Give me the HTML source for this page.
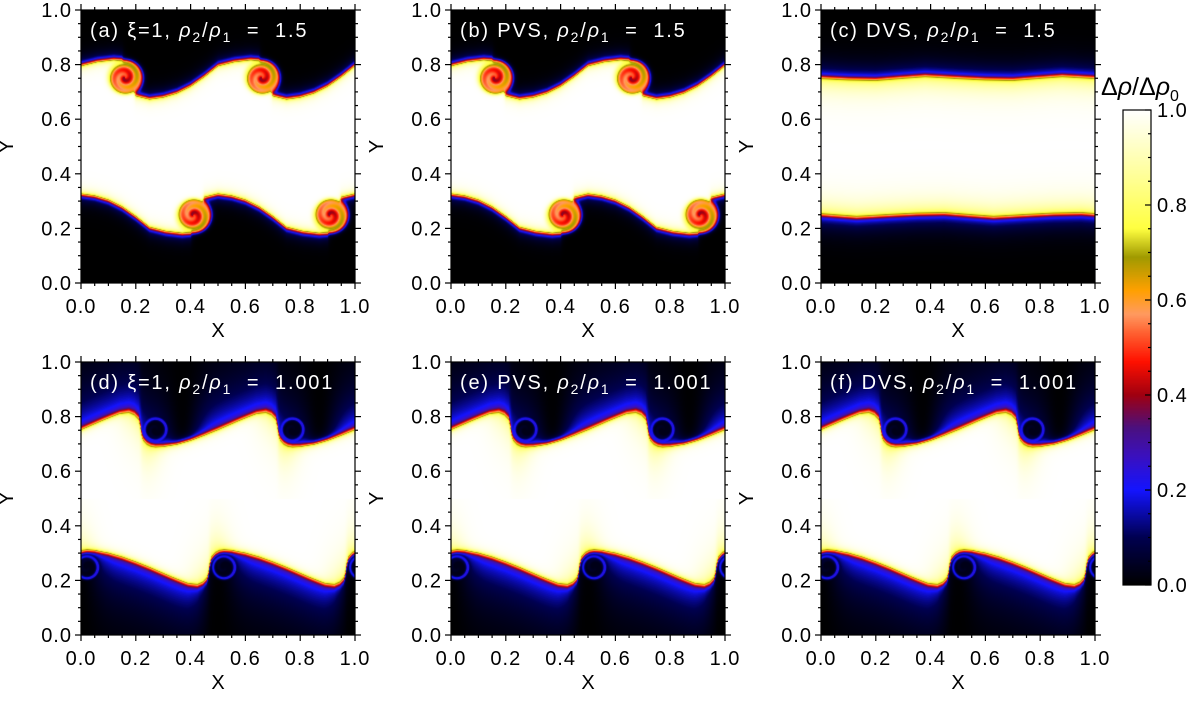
<!DOCTYPE html>
<html><head><meta charset="utf-8">
<style>
html,body{margin:0;padding:0;background:#fff;}
#root{position:relative;width:1200px;height:706px;overflow:hidden;font-family:"Liberation Sans",sans-serif;}
canvas{position:absolute;}
svg{position:absolute;left:0;top:0;}
</style></head>
<body>
<div id="root">
<svg id="ov" width="1200" height="706"></svg>
</div>
<script>
// ---- data ----
const xTickLabels = ["0.0","0.2","0.4","0.6","0.8","1.0"];
const yTickLabels = ["0.0","0.2","0.4","0.6","0.8","1.0"];
const xTickValues = [0,0.2,0.4,0.6,0.8,1.0];
const yTickValues = [0,0.2,0.4,0.6,0.8,1.0];
const cbTickValues = [0,0.2,0.4,0.6,0.8,1.0];
const cbTickLabels = ["0.0","0.2","0.4","0.6","0.8","1.0"];
const cmapPos = [0,0.10,0.20,0.27,0.33,0.40,0.47,0.53,0.57,0.62,0.69,0.75,0.85,1.0];
const cmapCol = ["#000000","#000050","#1414ff","#3a10c0","#4a1080","#a00010","#ff1000","#ff6030","#ff9a60","#ffa000","#a09a00","#ffff40","#ffff90","#ffffff"];
const panelTags = ["(a)","(b)","(c)","(d)","(e)","(f)"];
const panelScheme = ["\u03BE=1,","PVS,","DVS,","\u03BE=1,","PVS,","DVS,"];
const panelRatio = ["1.5","1.5","1.5","1.001","1.001","1.001"];
const panelType = ["a","a","c","d","d","d"];
// interface (upper half, one period of 0.5)
const ifaceA_x = [0,0.06,0.12,0.15,0.175,0.20,0.25,0.30,0.35,0.40,0.45,0.5];
const ifaceA_y = [0.80,0.815,0.822,0.818,0.75,0.69,0.678,0.685,0.70,0.725,0.76,0.80];
const ifaceD_x = [0,0.08,0.14,0.175,0.195,0.21,0.217,0.219,0.226,0.24,0.255,0.272,0.30,0.35,0.40,0.45,0.5];
const ifaceD_y = [0.755,0.79,0.815,0.822,0.815,0.80,0.77,0.752,0.725,0.708,0.699,0.695,0.695,0.703,0.717,0.735,0.755];
const ifaceC_x = [0,0.1,0.2,0.3,0.38,0.45,0.5];
const ifaceC_y = [0.755,0.75,0.748,0.756,0.762,0.758,0.755];
const vortexA = [0.16,0.752,0.065];
const vortexD = [0.272,0.752,0.052];
const darkColD = [0.37,0.25]; // upper, lower (in mapped coordinates)

// ---- layout ----
const PX = [81,451,821], PY = [10,362], PW = 274, PH = 273;
const CB = {x:1123,y:110,w:28,h:475};
const NS = "http://www.w3.org/2000/svg";
const ov = document.getElementById('ov');

function hex(c){return [parseInt(c.substr(1,2),16),parseInt(c.substr(3,2),16),parseInt(c.substr(5,2),16)];}
const cmapRGB = cmapCol.map(hex);
function cmap(v){
  v=Math.max(0,Math.min(1,v));
  for(let i=1;i<cmapPos.length;i++){ if(v<=cmapPos[i]){const t=(v-cmapPos[i-1])/(cmapPos[i]-cmapPos[i-1]);const a=cmapRGB[i-1],b=cmapRGB[i];return [a[0]+(b[0]-a[0])*t,a[1]+(b[1]-a[1])*t,a[2]+(b[2]-a[2])*t];}}
  return cmapRGB[cmapRGB.length-1];
}
function interp(xs,ys,x){for(let i=1;i<xs.length;i++){if(x<=xs[i]){const t=(x-xs[i-1])/(xs[i]-xs[i-1]);return ys[i-1]+(ys[i]-ys[i-1])*t;}}return ys[ys.length-1];}
function sig(z){return 1/(1+Math.exp(-z));}
function gauss(x,c,s){let d=((x-c)%0.5+0.75)%0.5-0.25;return Math.exp(-(d/s)*(d/s));}

function fieldUpper(type,x,y,lower){
  const xm=((x%0.5)+0.5)%0.5;
  let xs,ys; if(type==='a'){xs=ifaceA_x;ys=ifaceA_y;} else if(type==='d'){xs=ifaceD_x;ys=ifaceD_y;} else {xs=ifaceC_x;ys=ifaceC_y;}
  const yi=interp(xs,ys,xm);
  const d=yi-y;
  const e=sig(d/0.0045);
  const dd=Math.max(d,0),dk=Math.min(d,0);
  let vw,vk;
  if(type==='a'){vw=1-0.25*Math.exp(-dd/0.015); vk=0.22*Math.exp(dk/0.02);}
  else if(type==='c'){vw=1-0.25*Math.exp(-dd/0.04); vk=0.25*Math.exp(dk/0.035);}
  else {
    const cc=lower?darkColD[1]:darkColD[0];
    vw=1-0.25*Math.exp(-dd/0.012)-0.2*Math.exp(-dd/0.07)*gauss(xm,0.22,0.07);
    vk=0.16*Math.exp(dk/0.012)+0.25*Math.exp(dk/0.11)*(1-0.95*gauss(xm,cc,0.07));}
  let v=e*vw+(1-e)*vk;
  const vt = type==='a'?vortexA:(type==='d'?vortexD:null);
  if(vt){
    let dx=((xm-vt[0])%0.5+0.75)%0.5-0.25, dy=y-vt[1];
    const r=Math.sqrt(dx*dx+dy*dy), R=vt[2];
    if(r<R*1.5){
      const th=Math.atan2(dy,dx); let vv,m;
      if(type==='a'){ vv=0.44+0.3*Math.pow(r/R,1.5)+0.07*Math.cos(th-10*r/R); m=sig((R-r)/0.004);}
      else { vv=0.03+0.2*Math.exp(-Math.pow(r/R-0.78,2)/0.015)+0.06*Math.max(0,Math.cos(th-9*r/R))*(r/R); m=sig((R-0.006-r)/0.003);}
      v=m*vv+(1-m)*v;
    }
  }
  return v;
}
function field(type,x,y){ return y>=0.5?fieldUpper(type,x,y,false):fieldUpper(type,x-0.25,1-y,true); }

function mk(tag,attrs,parent){const el=document.createElementNS(NS,tag);for(const k in attrs)el.setAttribute(k,attrs[k]);(parent||ov).appendChild(el);return el;}

for(let p=0;p<6;p++){
  const col=p%3,row=Math.floor(p/3);
  const x0=PX[col],y0=PY[row];
  const cv=document.createElement('canvas');
  cv.width=PW;cv.height=PH;cv.style.left=x0+'px';cv.style.top=y0+'px';
  
  
  document.getElementById('root').insertBefore(cv,ov);
  const ctx=cv.getContext('2d');const img=ctx.createImageData(PW,PH);
  for(let j=0;j<PH;j++){const y=1-(j+0.5)/PH;for(let i=0;i<PW;i++){const x=(i+0.5)/PW;const c=cmap(field(panelType[p],x,y));const k=(j*PW+i)*4;img.data[k]=c[0];img.data[k+1]=c[1];img.data[k+2]=c[2];img.data[k+3]=255;}}
  ctx.putImageData(img,0,0);

  const g=mk('g',{});
  
  
  const frame=mk('rect',{x:x0,y:y0,width:PW,height:PH,fill:'none',stroke:'#000','stroke-width':1.2},g);
  
  
  const sx=v=>x0+v*PW, sy=v=>y0+PH-v*PH;
  for(let k=0;k<=20;k++){
    const v=k/20, L=(k%4===0)?6:3;
    mk('line',{x1:sx(v),x2:sx(v),y1:y0+PH,y2:y0+PH+L,stroke:'#000','stroke-width':1.2},g);
    mk('line',{x1:sx(v),x2:sx(v),y1:y0,y2:y0-L,stroke:'#000','stroke-width':1.2},g);
    mk('line',{x1:x0,x2:x0-L,y1:sy(v),y2:sy(v),stroke:'#000','stroke-width':1.2},g);
    mk('line',{x1:x0+PW,x2:x0+PW+L,y1:sy(v),y2:sy(v),stroke:'#000','stroke-width':1.2},g);
  }
  for(let k=0;k<xTickValues.length;k++){
    const t=mk('text',{x:sx(xTickValues[k]),y:y0+PH+30,'text-anchor':'middle','font-size':20,'letter-spacing':1,fill:'#000'},g);
    t.textContent=xTickLabels[k];
    
    
  }
  for(let k=0;k<yTickValues.length;k++){
    const t=mk('text',{x:x0-9,y:sy(yTickValues[k])+7,'text-anchor':'end','font-size':20,'letter-spacing':1,fill:'#000'},g);
    t.textContent=yTickLabels[k];
    
    
  }
  const xt=mk('text',{x:x0+PW/2,y:y0+PH+54,'text-anchor':'middle','font-size':20,fill:'#000'},g);
  xt.textContent='X';
  
  
  const yx=x0-68, yy=y0+PH/2;
  const yt=mk('text',{x:yx,y:yy,'text-anchor':'middle','font-size':20,fill:'#000',transform:'rotate(-90 '+yx+' '+yy+')'},g);
  yt.textContent='Y';
  
  
  const lab=mk('text',{x:x0+9,y:y0+27,'font-size':20,'letter-spacing':1.8,fill:'#fff',style:'white-space:pre'},g);
  
  
  lab.innerHTML=panelTags[p]+' '+panelScheme[p]+' <tspan font-style="italic">\u03C1</tspan><tspan font-size="14" dy="5">2</tspan><tspan dy="-5">/</tspan><tspan font-style="italic">\u03C1</tspan><tspan font-size="14" dy="5">1</tspan><tspan dy="-5">  =  '+panelRatio[p]+'</tspan>';
}

// colorbar
const cbc=document.createElement('canvas');
cbc.width=CB.w;cbc.height=CB.h;cbc.style.left=CB.x+'px';cbc.style.top=CB.y+'px';


document.getElementById('root').insertBefore(cbc,ov);
{const ctx=cbc.getContext('2d');for(let j=0;j<CB.h;j++){const c=cmap(1-(j+0.5)/CB.h);ctx.fillStyle='rgb('+c.map(Math.round).join(',')+')';ctx.fillRect(0,j,CB.w,1);}}
const cbg=mk('g',{});


mk('rect',{x:CB.x,y:CB.y,width:CB.w,height:CB.h,fill:'none',stroke:'#000','stroke-width':1.2},cbg);
const cby=v=>CB.y+CB.h-v*CB.h;
for(let k=0;k<=20;k++){const v=k/20;const L=(k%4===0)?6:3;
  mk('line',{x1:CB.x+CB.w,x2:CB.x+CB.w-L,y1:cby(v),y2:cby(v),stroke:'#000','stroke-width':1.2},cbg);}
for(let k=0;k<cbTickValues.length;k++){
  const t=mk('text',{x:CB.x+CB.w+6,y:cby(cbTickValues[k])+7,'font-size':20,'letter-spacing':1,fill:'#000'},cbg);
  t.textContent=cbTickLabels[k];
  
  
}
const cbt=mk('text',{x:1101,y:95,'font-size':25,fill:'#000'},cbg);


cbt.innerHTML='\u0394<tspan font-style="italic">\u03C1</tspan>/\u0394<tspan font-style="italic">\u03C1</tspan><tspan font-size="16" dy="6">0</tspan>';
</script>
</body></html>
